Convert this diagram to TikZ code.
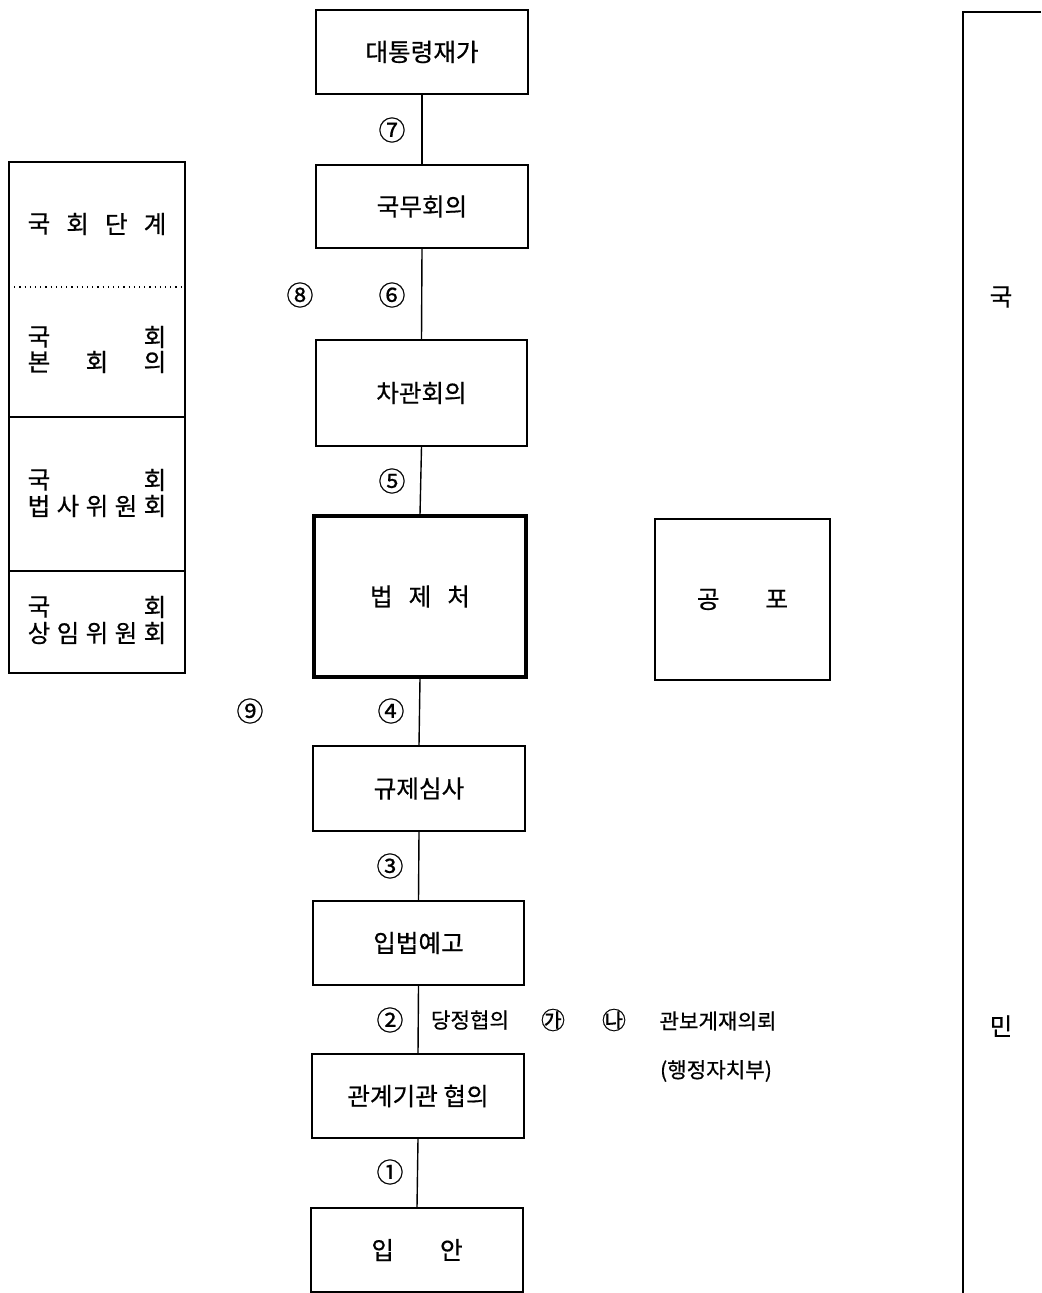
\documentclass[tikz,border=0pt]{standalone}
\usepackage{fontspec}
\setmainfont{Noto Sans CJK KR}[FakeBold=0.6]
\begin{document}
\begin{tikzpicture}[x=0.5pt,y=-0.5pt,
  box/.style={draw, line width=0.8pt, inner sep=0pt, minimum width=106pt, minimum height=42pt, font=\fontsize{12.3}{14}\selectfont},
  thickbox/.style={box, line width=1.6pt},
  conn/.style={line width=0.7pt},
  num/.style={inner sep=0pt, font=\fontsize{13.5}{15}\selectfont},
  hnum/.style={inner sep=0pt, font=\fontsize{12}{14}\selectfont},
  small/.style={inner sep=0pt, font=\fontsize{10.6}{12}\selectfont},
  ch/.style={inner sep=0pt, font=\fontsize{12.3}{14}\selectfont},
  frame/.style={line width=0.8pt}]
\useasboundingbox (0,0) rectangle (1041,1293);

% main column
\node[box] (b1) at (422,52) {대통령재가};
\node[box, minimum height=41.5pt] (b2) at (422,206.5) {국무회의};
\node[box, minimum width=105.5pt, minimum height=53pt] (b3) at (421.5,393) {차관회의};
\node[thickbox, minimum height=80.5pt] (b4) at (420,596.5) {법\hspace{8pt}제\hspace{8pt}처};
\node[box, minimum height=42.5pt] (b5) at (419,788.5) {규제심사};
\node[box, minimum width=105.5pt] (b6) at (418.5,943) {입법예고};
\node[box] (b7) at (418,1096) {관계기관 협의};
\node[box] (b8) at (417,1250) {입\hspace{23pt}안};

\draw[conn] (b1.south) -- (b2.north);
\draw[conn] (b2.south) -- (b3.north);
\draw[conn] (b3.south) -- (b4.north);
\draw[conn] (b4.south) -- (b5.north);
\draw[conn] (b5.south) -- (b6.north);
\draw[conn] (b6.south) -- (b7.north);
\draw[conn] (b7.south) -- (b8.north);

% promulgation box
\node[box, minimum width=87.5pt, minimum height=80.5pt] (gp) at (742.5,599.5) {공\hspace{23pt}포};

% step markers
\node[num] (n7) at (392,130) {⑦};
\node[num] (n8) at (300,295) {⑧};
\node[num] (n6) at (392,295) {⑥};
\node[num] (n5) at (392,481) {⑤};
\node[num] (n9) at (250,711) {⑨};
\node[num] (n4) at (391,711) {④};
\node[num] (n3) at (390,866) {③};
\node[num] (n2) at (390,1020) {②};
\node[num] (n1) at (390,1172) {①};

\node[small] (dj) at (470,1020) {당정협의};
\node[hnum] (ga) at (553,1020) {㉮};
\node[hnum] (na) at (614,1020) {㉯};
\node[small] (gb) at (718,1021) {관보게재의뢰};
\node[small] (hj) at (716,1071) {(행정자치부)};

% National Assembly stack
\draw[frame] (9,162) rectangle (185,673);
\draw[line width=0.6pt, dotted] (9,287) -- (185,287);
\draw[frame] (9,417) -- (185,417);
\draw[frame] (9,571) -- (185,571);

\node[ch] (s1a) at (39,224) {국};
\node[ch] (s1b) at (77.7,224) {회};
\node[ch] (s1c) at (116.3,224) {단};
\node[ch] (s1d) at (155,224) {계};

\node[ch] (s2a) at (39,337) {국};
\node[ch] (s2b) at (155,337) {회};
\node[ch] (s2c) at (39,362) {본};
\node[ch] (s2d) at (97,362) {회};
\node[ch] (s2e) at (155,362) {의};

\node[ch] (s3a) at (39,480) {국};
\node[ch] (s3b) at (155,480) {회};
\node[ch] (s3c) at (39,506) {법};
\node[ch] (s3d) at (68,506) {사};
\node[ch] (s3e) at (97,506) {위};
\node[ch] (s3f) at (126,506) {원};
\node[ch] (s3g) at (155,506) {회};

\node[ch] (s4a) at (39,607) {국};
\node[ch] (s4b) at (155,607) {회};
\node[ch] (s4c) at (39,633) {상};
\node[ch] (s4d) at (68,633) {임};
\node[ch] (s4e) at (97,633) {위};
\node[ch] (s4f) at (126,633) {원};
\node[ch] (s4g) at (155,633) {회};

% People column
\draw[frame] (1041,12) -- (963,12) -- (963,1293);
\node[ch] (pk) at (1001,297) {국};
\node[ch] (pm) at (1001,1026) {민};
\end{tikzpicture}
\end{document}
